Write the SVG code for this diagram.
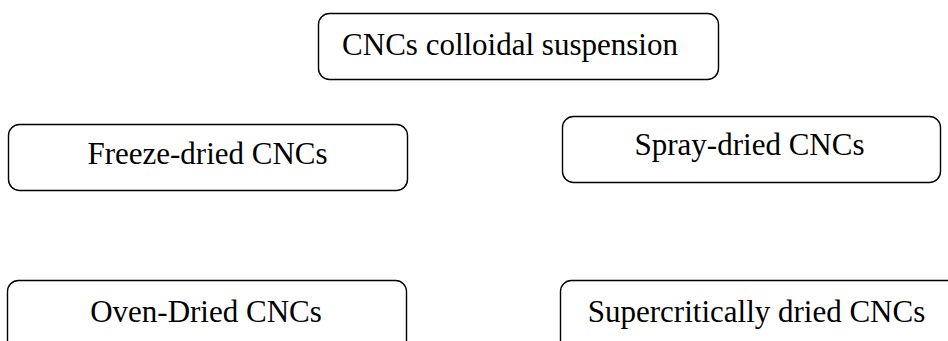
<svg xmlns="http://www.w3.org/2000/svg" width="948" height="341" viewBox="0 0 948 341">
<style>
.box{fill:#fff;stroke:#000;stroke-width:1.4}
.lbl{font-family:"Liberation Serif","Times New Roman",serif;font-size:31px;fill:#000;text-anchor:middle}
</style>
<rect width="948" height="341" fill="#fff"/>
<g id="connectors"></g>
<g id="node-suspension">
<rect class="box" x="318.5" y="13.5" width="400" height="66" rx="11"/>
<text class="lbl" x="510" y="55">CNCs colloidal suspension</text>
</g>
<g id="node-freeze">
<rect class="box" x="8.5" y="124.5" width="399" height="66" rx="11"/>
<text class="lbl" x="207.5" y="164">Freeze-dried CNCs</text>
</g>
<g id="node-spray">
<rect class="box" x="562.5" y="116.5" width="378" height="66" rx="11"/>
<text class="lbl" x="749.5" y="155">Spray-dried CNCs</text>
</g>
<g id="node-oven">
<rect class="box" x="7.5" y="280.5" width="399" height="90" rx="11"/>
<text class="lbl" x="206" y="321.5">Oven-Dried CNCs</text>
</g>
<g id="node-supercritical">
<rect class="box" x="560.5" y="280.5" width="420" height="90" rx="11"/>
<text class="lbl" x="756.5" y="321.5">Supercritically dried CNCs</text>
</g>
</svg>
